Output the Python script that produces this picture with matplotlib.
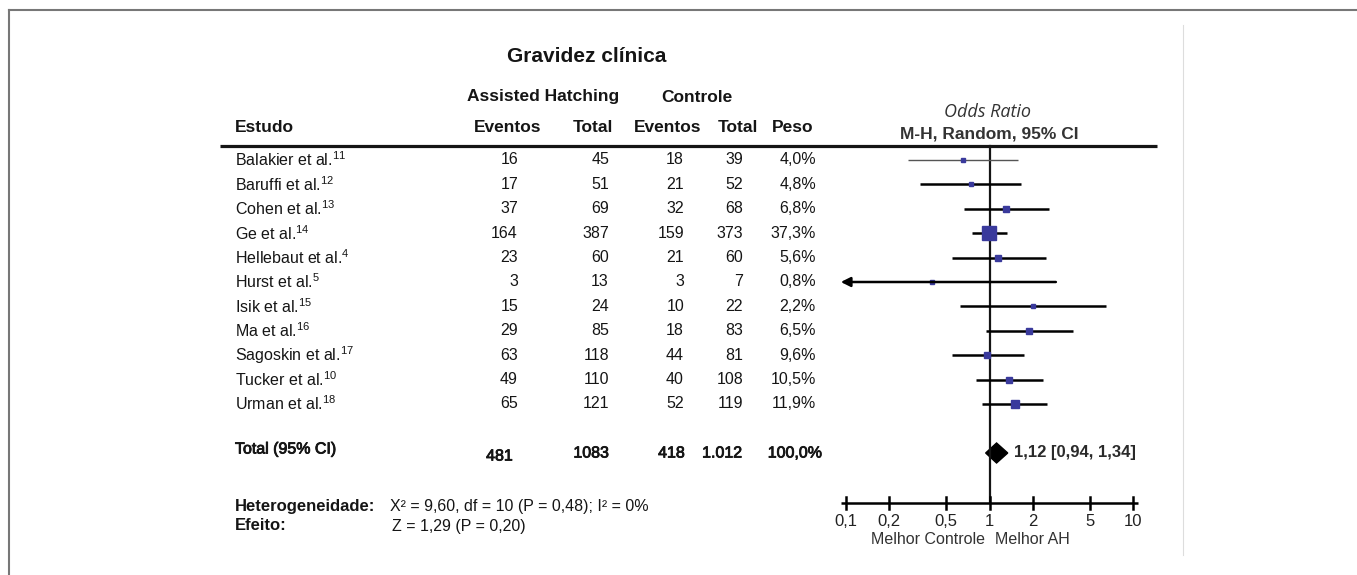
import numpy as np
import matplotlib
matplotlib.use("Agg")
import matplotlib.pyplot as plt
import matplotlib.patheffects as pe

# study data
studies = ["Balakier et al.", "Baruffi et al.", "Cohen et al.", "Ge et al.",
           "Hellebaut et al.", "Hurst et al.", "Isik et al.", "Ma et al.",
           "Sagoskin et al.", "Tucker et al.", "Urman et al."]
refs = ["11", "12", "13", "14", "4", "5", "15", "16", "17", "10", "18"]
ah_events = [16, 17, 37, 164, 23, 3, 15, 29, 63, 49, 65]
ah_total = [45, 51, 69, 387, 60, 13, 24, 85, 118, 110, 121]
ctrl_events = [18, 21, 32, 159, 21, 3, 10, 18, 44, 40, 52]
ctrl_total = [39, 52, 68, 373, 60, 7, 22, 83, 81, 108, 119]
weights = [4.0, 4.8, 6.8, 37.3, 5.6, 0.8, 2.2, 6.5, 9.6, 10.5, 11.9]
odds_ratio = [0.65, 0.74, 1.31, 0.99, 1.15, 0.40, 2.00, 1.87, 0.96, 1.37, 1.50]
ci_low = [0.27, 0.33, 0.66, 0.75, 0.55, 0.055, 0.62, 0.94, 0.55, 0.80, 0.89]
ci_high = [1.57, 1.67, 2.59, 1.33, 2.46, 2.90, 6.50, 3.80, 1.73, 2.35, 2.50]

total_labels = ["481", "1083", "418", "1.012", "100,0%"]
pooled_or, pooled_lo, pooled_hi = 1.12, 0.94, 1.34
pooled_text = "1,12 [0,94, 1,34]"
het_text = "X² = 9,60, df = 10 (P = 0,48); I² = 0%"
eff_text = "Z = 1,29 (P = 0,20)"

xticks = [0.1, 0.2, 0.5, 1, 2, 5, 10]
xtick_labels = ["0,1", "0,2", "0,5", "1", "2", "5", "10"]

plt.rcParams["font.family"] = ["Liberation Sans", "DejaVu Sans"]
plt.rcParams["mathtext.fontset"] = "custom"
plt.rcParams["mathtext.rm"] = "Liberation Sans"

W, H = 1357, 575
fig = plt.figure(figsize=(W / 100, H / 100), dpi=100)
ax = fig.add_axes([0, 0, 1, 1])
ax.set_xlim(0, W)
ax.set_ylim(H, 0)
ax.axis("off")

# forest panel: log x, same pixel y as the table
fx0, fx1 = 846, 1133
fax = fig.add_axes([fx0 / W, 0, (fx1 - fx0) / W, 1])
fax.set_xscale("log")
fax.set_xlim(0.1, 10)
fax.set_ylim(H, 0)
fax.axis("off")
fax.patch.set_alpha(0)

ink = "#151515"
semi = [pe.withStroke(linewidth=0.6, foreground=ink)]
row_y0, row_step = 160, 24.4
rows_y = row_y0 + row_step * np.arange(len(studies))
total_y, het_y, eff_y = 453, 507, 526

# frame around the figure
ax.plot([9, W], [10, 10], color="#777777", lw=1.5)
ax.plot([9, 9], [10, H], color="#777777", lw=1.5)
ax.plot([1183, 1183], [25, 555], color="#dddddd", lw=0.8)

ax.text(587, 56, "Gravidez clínica", ha="center", va="center",
        fontsize=15, fontweight="bold", color=ink)

# headers
hdr = dict(va="center", fontsize=12.5, fontweight="bold", color=ink)
ax.text(543, 97, "Assisted Hatching", ha="center", **hdr)
ax.text(697, 97, "Controle", ha="center", **hdr)
ax.text(235, 127, "Estudo", ha="left", **hdr)
ax.text(508, 127, "Eventos", ha="center", **hdr)
ax.text(613, 127, "Total", ha="right", **hdr)
ax.text(668, 127, "Eventos", ha="center", **hdr)
ax.text(758, 127, "Total", ha="right", **hdr)
ax.text(793, 127, "Peso", ha="center", **hdr)
ax.text(988, 112, "Odds Ratio", ha="center", va="center", fontsize=13,
        style="italic", color="#333333", family=["Open Sans", "DejaVu Sans"])
ax.text(989, 134, "M-H, Random, 95% CI", ha="center", va="center",
        fontsize=12.5, fontweight="bold", color="#333333")
ax.plot([220, 1157], [146, 146], color=ink, lw=2.3, solid_capstyle="butt")

# table rows
cols = [518, 609, 684, 743, 816]
for i, y in enumerate(rows_y):
    ax.text(235, y, studies[i] + "$^{" + refs[i] + "}$", ha="left",
            va="center", fontsize=11.5, color=ink)
    vals = [str(ah_events[i]), str(ah_total[i]), str(ctrl_events[i]),
            str(ctrl_total[i]), f"{weights[i]:.1f}%".replace(".", ",")]
    for x, v in zip(cols, vals):
        ax.text(x, y, v, ha="right", va="center", fontsize=11.5, color=ink)

ax.text(235, total_y - 4, "Total (95% CI)", ha="left", va="center",
        fontsize=11.5, color=ink, path_effects=semi)
tcols = [513, 609, 685, 742, 822]
for x, v in zip(tcols, total_labels):
    dy = 3 if v == "481" else 0
    ax.text(x, total_y + dy, v, ha="right", va="center", fontsize=11.5,
            color=ink, path_effects=semi)

ax.text(235, het_y, "Heterogeneidade:", ha="left", va="center",
        fontsize=12, fontweight="bold", color=ink)
ax.text(390, het_y, het_text, ha="left", va="center", fontsize=11.5, color=ink)
ax.text(235, eff_y, "Efeito:", ha="left", va="center",
        fontsize=12, fontweight="bold", color=ink)
ax.text(392, eff_y, eff_text, ha="left", va="center", fontsize=11.5, color=ink)

# forest plot
axis_lo, axis_hi = 0.092, 10.8
fax.plot([1, 1], [146, 503], color=ink, lw=1.6, clip_on=False)
for i, y in enumerate(rows_y):
    lw = 1.0 if i == 0 else 1.8
    col = "#555555" if i == 0 else "black"
    if ci_low[i] < 0.1:
        fax.annotate("", xy=(axis_lo, y), xytext=(ci_high[i], y),
                     arrowprops=dict(arrowstyle="-|>", color="black", lw=1.8,
                                     mutation_scale=14, shrinkA=0, shrinkB=0),
                     annotation_clip=False)
    else:
        fax.plot([ci_low[i], ci_high[i]], [y, y], color=col, lw=lw,
                 clip_on=False, solid_capstyle="butt")
    ms = max(3.0, 1.55 * np.sqrt(weights[i]))
    fax.plot(odds_ratio[i], y, marker="s", ms=ms, color="#3a3a9c",
             mec="#3a3a9c", clip_on=False)

fax.fill([pooled_lo, pooled_or, pooled_hi, pooled_or],
         [total_y, total_y - 10, total_y, total_y + 10],
         color="black", clip_on=False)
fax.text(pooled_hi * 1.1, total_y, pooled_text, ha="left", va="center",
         fontsize=12, fontweight="bold", color="#2a2a2a")

# log axis drawn by hand, ticks crossing the line
axis_y = 503
fax.plot([axis_lo, axis_hi], [axis_y, axis_y], color="black", lw=1.8,
         clip_on=False, solid_capstyle="butt")
for t, lab in zip(xticks, xtick_labels):
    fax.plot([t, t], [axis_y - 6, axis_y + 6], color="black", lw=1.8,
             clip_on=False)
    fax.text(t, 521, lab, ha="center", va="center", fontsize=12,
             color="#222222")
fax.text(0.93, 540, "Melhor Controle", ha="right", va="center",
         fontsize=11.5, color="#333333")
fax.text(1.1, 540, "Melhor AH", ha="left", va="center",
         fontsize=11.5, color="#333333")

fig.savefig("out.png", dpi=100)
